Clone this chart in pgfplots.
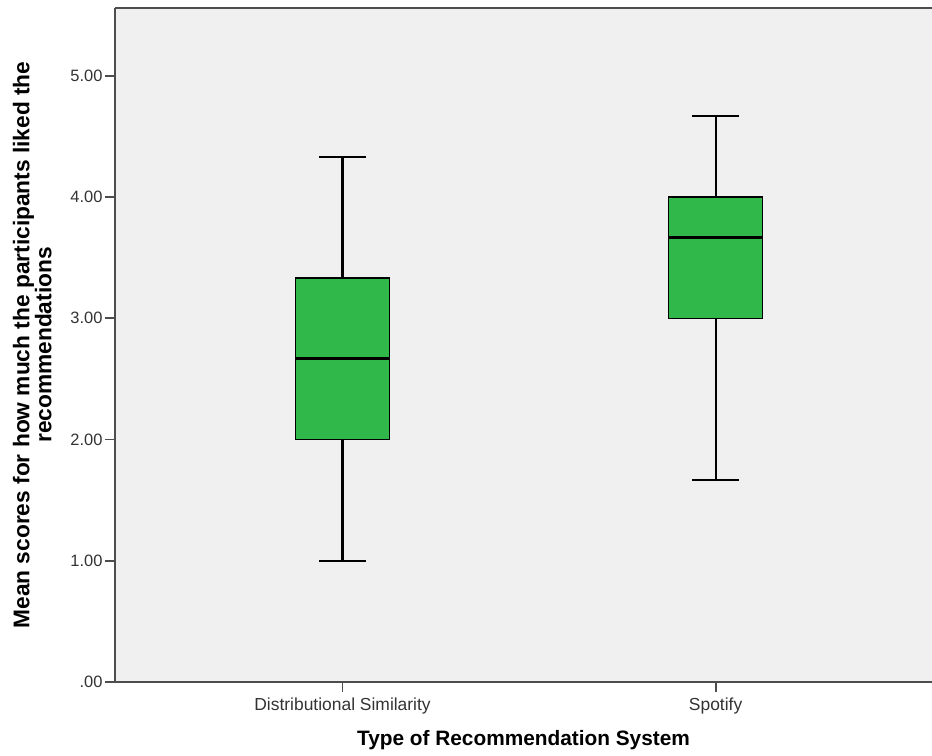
\documentclass[border=0pt]{standalone}
\usepackage{pgfplots}
\pgfplotsset{compat=1.18}
\usepgfplotslibrary{statistics}
\usepackage{fontspec}
\setmainfont{Liberation Sans}
\definecolor{boxgreen}{RGB}{49,184,74}
\definecolor{bgray}{RGB}{240,240,240}
\definecolor{axgray}{RGB}{77,77,77}
\begin{document}
\begin{tikzpicture}
\begin{axis}[
  name=ax,
  scale only axis,
  width=817bp, height=674bp,
  xmin=0.39, xmax=2.58,
  ymin=0, ymax=5.56,
  axis x line*=bottom, axis y line*=left,
  axis line style={axgray, line width=1.6bp, -},
  axis background/.style={fill=bgray},
  xtick={1,2}, xticklabels={Distributional Similarity, Spotify},
  ytick={0,1,2,3,4,5}, yticklabels={.00,1.00,2.00,3.00,4.00,5.00},
  tick align=outside, major tick length=10bp,
  tick style={axgray, line width=1.8bp},
  yticklabel style={font=\fontsize{16.5}{18}\selectfont, text=black!80, xshift=1bp},
  xticklabel style={font=\fontsize{17.5}{19}\selectfont, text=black!80, yshift=-2bp},
  xlabel={\textbf{Type of Recommendation System}},
  xlabel style={font=\fontsize{20.9}{22}\selectfont, yshift=-10bp},
  ylabel={\textbf{Mean scores for how much the participants liked the}\\\textbf{recommendations}},
  ylabel style={font=\fontsize{22.8}{17}\selectfont, align=center, yshift=12bp},
  clip=false,
  boxplot/draw direction=y,
  boxplot/every box/.style={draw=black, line width=1.3bp, fill=boxgreen},
  boxplot/every median/.style={draw=black, line width=3.2bp},
  boxplot/every whisker/.style={draw=black, line width=2.2bp},
]
\addplot[boxplot prepared={lower whisker=1.0, lower quartile=2.0, median=2.6667, upper quartile=3.3333, upper whisker=4.3333, draw position=1, box extend=0.252, whisker extend=0.126}, draw=black, line width=2.2bp] coordinates {};
\addplot[boxplot prepared={lower whisker=1.6667, lower quartile=3.0, median=3.6667, upper quartile=4.0, upper whisker=4.6667, draw position=2, box extend=0.252, whisker extend=0.126}, draw=black, line width=2.2bp] coordinates {};
\draw[axgray, line width=1.6bp] (rel axis cs:0,1) -- (rel axis cs:1,1);
\end{axis}
\pgfresetboundingbox
\path[use as bounding box] ([xshift=-115bp,yshift=-74bp]ax.south west) rectangle ([yshift=8bp]ax.north east);
\end{tikzpicture}
\end{document}
